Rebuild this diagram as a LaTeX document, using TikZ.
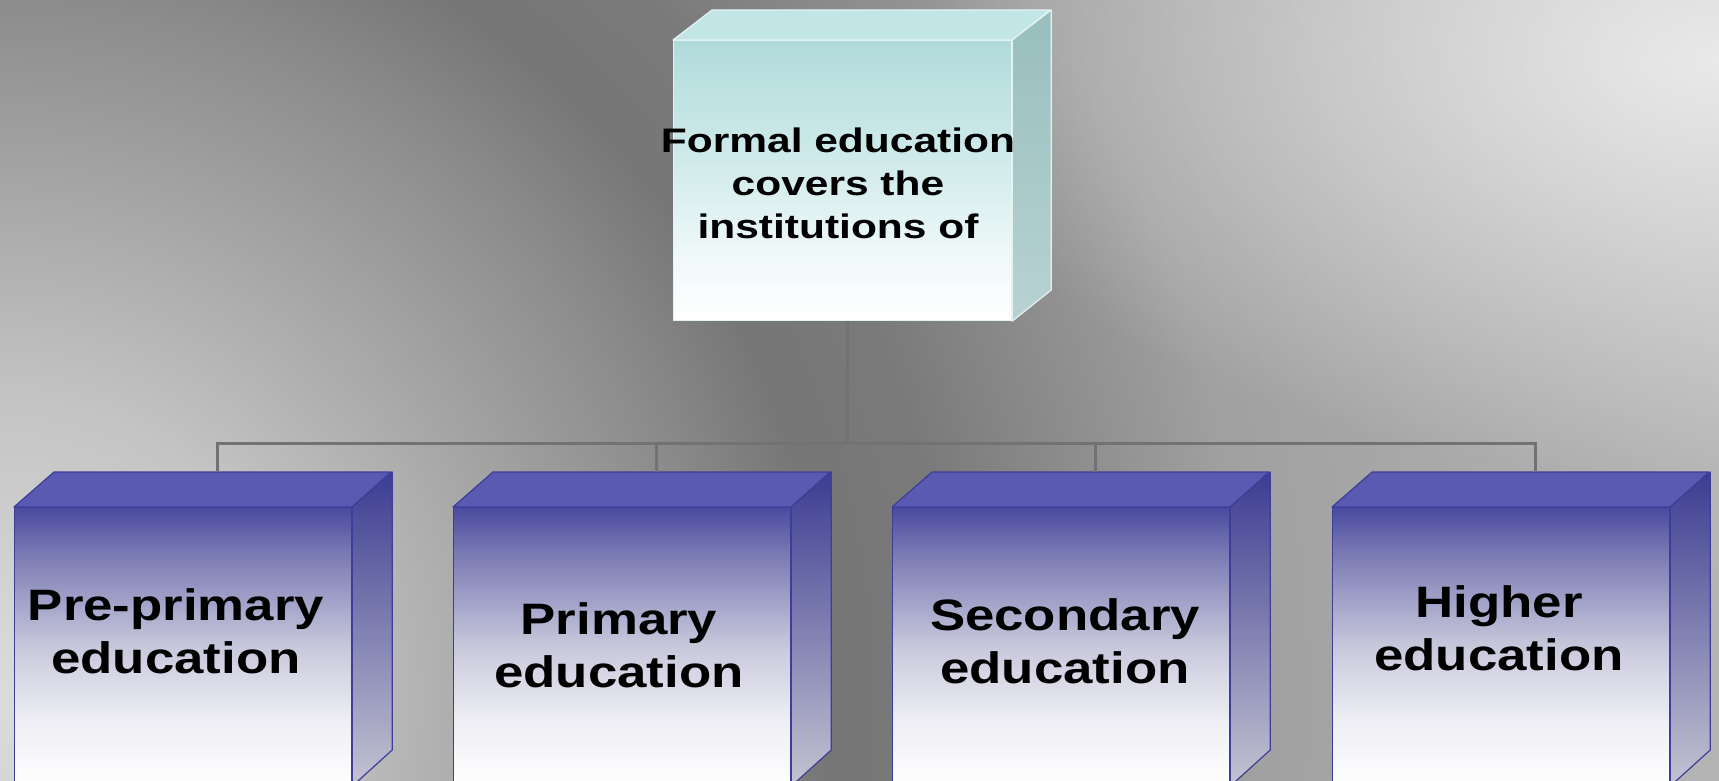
\documentclass[tikz,border=0pt]{standalone}
\usepackage{fontspec}
\newfontfamily\lblfont{Liberation Sans}[FakeStretch=1.2]
\newfontfamily\toplblfont{Liberation Sans}[FakeStretch=1.25]
\usetikzlibrary{calc,fadings}
\definecolor{rA}{HTML}{DCDCDC}
\definecolor{rB}{HTML}{C4C4C4}
\definecolor{rC}{HTML}{8C8C8C}
\definecolor{rD}{HTML}{767676}
\definecolor{rE}{HTML}{7A7A7A}
\definecolor{rF}{HTML}{A0A0A0}
\definecolor{rG}{HTML}{B6B6B6}
\definecolor{rH}{HTML}{BCBCBC}
\definecolor{fA}{HTML}{4A4AA0}
\definecolor{fB}{HTML}{7A7AB4}
\definecolor{fC}{HTML}{C8C8DC}
\definecolor{fD}{HTML}{EEEEF4}
\definecolor{cA}{HTML}{B0DADA}
\definecolor{cB}{HTML}{B8DFDF}
\definecolor{cC}{HTML}{D2EBEB}
\definecolor{cD}{HTML}{EEF8F8}
\definecolor{blueedge}{HTML}{3E3E98}
\definecolor{bluetop}{HTML}{5A5AB2}
\definecolor{bluesideT}{HTML}{3C3C92}
\definecolor{bluesideB}{HTML}{C4C4D2}
\definecolor{cyantop}{HTML}{C2E6E6}
\definecolor{cyansideT}{HTML}{98BEBE}
\definecolor{cyansideB}{HTML}{B8D2D2}
\definecolor{cyanedge}{HTML}{E4F2F2}
\definecolor{connc}{HTML}{727272}
\pgfdeclareradialshading{bgrad}{\pgfpointorigin}{color(0bp)=(rA); color(3.75bp)=(rB); color(8.75bp)=(rC); color(10.4bp)=(rD); color(11.9bp)=(rE); color(15.6bp)=(rF); color(21.9bp)=(rG); color(25bp)=(rH); color(50bp)=(rH)}
\pgfdeclareverticalshading{frontsh}{100bp}{color(0bp)=(white); color(25bp)=(white); color(36.7bp)=(fD); color(50bp)=(fC); color(66.7bp)=(fB); color(75bp)=(fA); color(100bp)=(fA)}
\pgfdeclareverticalshading{topfrontsh}{100bp}{color(0bp)=(white); color(25bp)=(white); color(37.5bp)=(cD); color(52.3bp)=(cC); color(70.2bp)=(cB); color(75bp)=(cA); color(100bp)=(cA)}
\pgfdeclareradialshading{glowsh}{\pgfpointorigin}{color(0bp)=(pgftransparent!30); color(25bp)=(pgftransparent!100); color(50bp)=(pgftransparent!100)}
\pgfdeclarefading{glowfade}{\pgfuseshading{glowsh}}
\begin{document}
\begin{tikzpicture}[x=1pt,y=-1pt,
  conn/.style={draw=connc, line width=3pt},
  frontbox/.style={shade, shading=frontsh, draw=blueedge, line width=1.2pt, minimum width=337pt, minimum height=278pt, inner sep=0pt, anchor=north west},
  topbox/.style={shade, shading=topfrontsh, draw=cyanedge, line width=1.2pt, minimum width=338pt, minimum height=280pt, inner sep=0pt, anchor=north west},
  btxt/.style={font=\lblfont\bfseries\fontsize{44}{53}\selectfont, align=center, anchor=base, inner sep=0pt},
  ttxt/.style={font=\toplblfont\bfseries\fontsize{34}{43}\selectfont, align=center, anchor=base, inner sep=0pt},
  bluetopface/.style={fill=bluetop, draw=blueedge, line width=1.2pt, line join=round},
  bluesideface/.style={top color=bluesideT, bottom color=bluesideB, draw=blueedge, line width=1.2pt, line join=round},
  cyantopface/.style={fill=cyantop, draw=cyanedge, line width=1.2pt, line join=round},
  cyansideface/.style={top color=cyansideT, bottom color=cyansideB, draw=cyanedge, line width=1.2pt, line join=round}
]
\useasboundingbox (0,0) rectangle (1719,781);
\clip (0,0) rectangle (1719,781);
\shade[shading=bgrad] (0,700) circle [radius=2000];
\fill[white, path fading=glowfade] (1719,60) ellipse [x radius=800, y radius=420];

% top box
\node[topbox] (top) at (673,40) {};
\fill[cyantopface] (top.north west) -- ++(39,-30) -- ++(338,0) -- (top.north east) -- cycle;
\shade[cyansideface] (top.north east) -- ++(39,-30) -- ++(0,280) -- (top.south east) -- cycle;
\node[ttxt] (ttext) at (838,238) {Formal education\\covers the\\institutions of};

% bottom boxes
\foreach \i/\L in {1/14, 2/453, 3/892, 4/1332} {
  \node[frontbox] (b\i) at (\L,507) {};
  \fill[bluetopface] (b\i.north west) -- ++(40,-35) -- ++(337,0) -- (b\i.north east) -- cycle;
  \shade[bluesideface] (b\i.north east) -- ++(40,-35) -- ++(0,278) -- (b\i.south east) -- cycle;
  \coordinate (in\i) at ($(b\i.north)+(34,-35)$);
}
\node[btxt] (t1) at (176,673) {Pre-primary\\education};
\node[btxt] (t2) at (619,687) {Primary\\education};
\node[btxt] (t3) at (1065,683) {Secondary\\education};
\node[btxt] (t4) at (1499,670) {Higher\\education};

% connectors
\coordinate (topout) at ($(top.south)+(5,0)$);
\coordinate (hub) at ($(topout)+(0,122)$);
\draw[conn] (topout) -- (hub);
\draw[conn] (in1) |- (hub);
\draw[conn] (in4) |- (hub);
\draw[conn] (in2) -- (in2 |- hub);
\draw[conn] (in3) -- (in3 |- hub);
\end{tikzpicture}
\end{document}
